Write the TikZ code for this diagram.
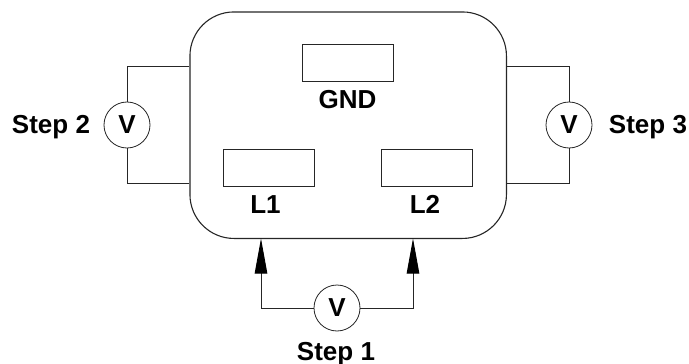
\documentclass[tikz,border=0pt]{standalone}
\usepackage{fontspec}
\setmainfont{Liberation Sans}
\usetikzlibrary{arrows.meta}
\begin{document}
\begin{tikzpicture}[x=1pt,y=-1pt,line width=1pt,
  body/.style={draw=black!85,line width=1.1pt,rounded corners=44pt,minimum width=316.5pt,minimum height=226.5pt,inner sep=0pt},
  slot/.style={draw=black!85,line width=0.9pt,minimum width=91pt,minimum height=37pt,inner sep=0pt},
  meter/.style={circle,draw=black!85,line width=0.8pt,minimum size=46pt,inner sep=0pt,font=\fontsize{26}{28}\selectfont\bfseries},
  lbl/.style={inner sep=0pt,anchor=base,font=\fontsize{26}{28}\selectfont\bfseries},
  wire/.style={draw=black!85,line width=0.9pt},
  probe/.style={wire,-{Triangle[length=35pt,width=12.5pt,color=black]}}]
\useasboundingbox (0,0) rectangle (689,364);
\node[body] (plug) at (348.2,125.2) {};
\node[slot] (gnd) at (347.5,62.5) {};
\node[slot] (l1) at (269,167.5) {};
\node[slot] (l2) at (426.5,167.5) {};
\node[lbl] (tgnd) at (347.5,108) {GND};
\node[lbl] (tl1) at (265.5,213) {L1};
\node[lbl] (tl2) at (425,213) {L2};
\node[meter] (v2) at (127,125) {V};
\node[meter] (v3) at (569,125) {V};
\node[meter] (v1) at (337,308) {V};
\node[lbl] (s2) at (51,133) {Step 2};
\node[lbl] (s3) at (648,133) {Step 3};
\node[lbl] (s1) at (336,360) {Step 1};
\coordinate (la) at (plug.west |- 0,66);
\coordinate (lb) at (plug.west |- 0,183);
\coordinate (ra) at (plug.east |- 0,66);
\coordinate (rb) at (plug.east |- 0,183);
\coordinate (pa) at (261,238.5);
\coordinate (pb) at (413,238.5);
\draw[wire] (v2.north) |- (la);
\draw[wire] (v2.south) |- (lb);
\draw[wire] (v3.north) |- (ra);
\draw[wire] (v3.south) |- (rb);
\draw[probe] (v1.west) -| (pa);
\draw[probe] (v1.east) -| (pb);
\end{tikzpicture}
\end{document}
